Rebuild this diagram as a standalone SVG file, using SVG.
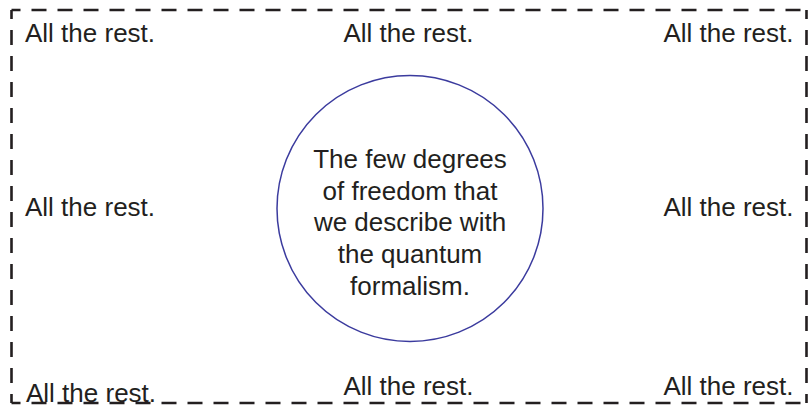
<svg xmlns="http://www.w3.org/2000/svg" width="809" height="408" viewBox="0 0 809 408">
  <style>
    .lbl { font-family: "Liberation Sans", Arial, sans-serif; font-size: 26px; fill: #231f20; }
    .mid { text-anchor: middle; }
    .end { text-anchor: end; }
    .border { stroke: #231f20; stroke-width: 2.6; fill: none; stroke-dasharray: 15 11; stroke-dashoffset: 6; }
  </style>
  <rect width="809" height="408" fill="#ffffff"/>
  <g id="connectors"/>
  <g id="boundary">
    <path class="border" d="M11.5,10 H806.5"/>
    <path class="border" d="M806.5,10 V403"/>
    <path class="border" d="M11.5,403 H806.5"/>
    <path class="border" d="M11.5,10 V403"/>
  </g>
  <g id="system">
    <circle cx="410" cy="208.5" r="133" fill="none" stroke="#3b3b9e" stroke-width="1.5"/>
    <text class="lbl mid" x="410" y="168">The few degrees</text>
    <text class="lbl mid" x="410" y="199.5">of freedom that</text>
    <text class="lbl mid" x="410" y="231">we describe with</text>
    <text class="lbl mid" x="410" y="263">the quantum</text>
    <text class="lbl mid" x="410" y="294.5">formalism.</text>
  </g>
  <g id="rest-top-left"><text class="lbl" x="25" y="42">All the rest.</text></g>
  <g id="rest-top-middle"><text class="lbl mid" x="408.5" y="42">All the rest.</text></g>
  <g id="rest-top-right"><text class="lbl end" x="793.5" y="42">All the rest.</text></g>
  <g id="rest-middle-left"><text class="lbl" x="25" y="216">All the rest.</text></g>
  <g id="rest-middle-right"><text class="lbl end" x="793.5" y="216">All the rest.</text></g>
  <g id="rest-bottom-left"><text class="lbl" x="26" y="401.5">All the rest.</text></g>
  <g id="rest-bottom-middle"><text class="lbl mid" x="408.5" y="394.5">All the rest.</text></g>
  <g id="rest-bottom-right"><text class="lbl end" x="793.5" y="394.5">All the rest.</text></g>
</svg>
